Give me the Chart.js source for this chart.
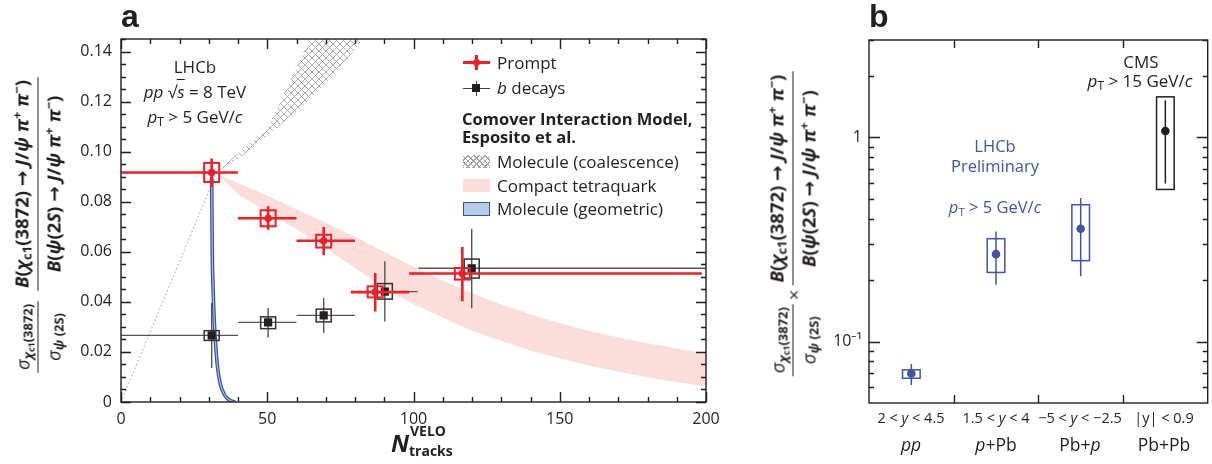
<!DOCTYPE html>
<html>
<head>
<meta charset="utf-8">
<script src="https://cdn.jsdelivr.net/npm/chart.js@4.4.0/dist/chart.umd.min.js"></script>
<style>
body { margin: 0; background: #fff; width: 1212px; height: 464px; position: relative; overflow: hidden;
       font-family: "Open Sans", sans-serif; color: #231f20; }
canvas { position: absolute; }
.t { position: absolute; white-space: nowrap; font-size: 17px; line-height: 22px; }
.c { transform: translateX(-50%); text-align: center; }
.blue { color: #3f55a6; font-size: 16.5px; }
sub, sup { font-size: 0.7em; line-height: 0; }
sub { vertical-align: -0.25em; }
sup { vertical-align: 0.55em; }
.panel { position: absolute; font-family: "Liberation Sans", sans-serif; font-weight: bold; font-size: 32px; line-height: 32px; }
.yt { position: absolute; transform: translate(-50%, -50%) rotate(-90deg); display: flex; align-items: center;
      font-size: 18.5px; white-space: nowrap; }
.frac { display: inline-flex; flex-direction: column; align-items: center; }
.frac .n { border-bottom: 1.6px solid #231f20; padding: 0 3px 3px; line-height: 24px; }
.frac .d { padding-top: 3px; line-height: 24px; }
.arr { font-family: "DejaVu Sans", sans-serif; font-weight: bold; }
.sw { position: absolute; }
.row1 { font-size: 14.5px; }
.row2 { font-size: 17.5px; }
</style>
</head>
<body>
<canvas id="chartA" width="660" height="410" style="left:60px;top:30px"></canvas>
<canvas id="chartB" width="392" height="410" style="left:820px;top:30px"></canvas>

<div class="panel" style="left:121px;top:0px">a</div>
<div class="panel" style="left:869px;top:0px">b</div>

<!-- panel a y title -->
<div class="yt" style="left:38px;top:225px">
  <span class="frac"><span class="n"><i>σ</i><sub><b><i>χ</i><sub>c1</sub>(3872)</b></sub></span><span class="d"><i>σ</i><sub><b><i>ψ</i> (2S)</b></sub></span></span>
  <span style="width:10px"></span>
  <span class="frac"><span class="n"><b><i>B</i>(<i>χ</i><sub>c1</sub>(3872) <span class="arr">→</span> <i>J</i>/<i>ψ π</i><sup>+</sup> <i>π</i><sup>−</sup>)</b></span><span class="d"><b><i>B</i>(<i>ψ</i>(2<i>S</i>) <span class="arr">→</span> <i>J</i>/<i>ψ π</i><sup>+</sup> <i>π</i><sup>−</sup>)</b></span></span>
</div>

<!-- panel b y title -->
<div class="yt" style="left:793px;top:224px">
  <span class="frac"><span class="n"><i>σ</i><sub><b><i>χ</i><sub>c1</sub>(3872)</b></sub></span><span class="d"><i>σ</i><sub><b><i>ψ</i> (2S)</b></sub></span></span>
  <span style="padding:0 4px">×</span>
  <span class="frac"><span class="n"><b><i>B</i>(<i>χ</i><sub>c1</sub>(3872) <span class="arr">→</span> <i>J</i>/<i>ψ π</i><sup>+</sup> <i>π</i><sup>−</sup>)</b></span><span class="d"><b><i>B</i>(<i>ψ</i>(2<i>S</i>) <span class="arr">→</span> <i>J</i>/<i>ψ π</i><sup>+</sup> <i>π</i><sup>−</sup>)</b></span></span>
</div>

<!-- panel a x title -->
<div class="t" style="left:391px;top:428px;font-size:24px;line-height:30px"><b><i>N</i></b></div>
<div class="t" style="left:410px;top:423px;font-size:14px;line-height:15px"><b>VELO</b></div>
<div class="t" style="left:409px;top:443px;font-size:14px;line-height:15px"><b>tracks</b></div>

<!-- panel a annotations -->
<div class="t c" style="left:195px;top:56px">LHCb</div>
<div class="t c" style="left:195px;top:81px"><i>pp</i> √<i style="border-top:1px solid #231f20">s</i> = 8 TeV</div>
<div class="t c" style="left:195px;top:106px"><i>p</i><sub>T</sub> &gt; 5 GeV/<i>c</i></div>

<!-- legend -->
<div class="sw" style="left:463px;top:61px;width:27px;height:2.5px;background:#ee2027"></div>
<div class="sw" style="left:475px;top:55px;width:2.5px;height:15px;background:#ee2027"></div>
<div class="sw" style="left:472.5px;top:58.5px;width:7.5px;height:7.5px;border-radius:50%;background:#ee2027"></div>
<div class="t" style="left:497px;top:52px">Prompt</div>

<div class="sw" style="left:463px;top:87.5px;width:27px;height:1.4px;background:#444"></div>
<div class="sw" style="left:475.6px;top:81px;width:1.4px;height:15px;background:#444"></div>
<div class="sw" style="left:472px;top:84px;width:8px;height:8px;background:#231f20"></div>
<div class="t" style="left:497px;top:77px"><i>b</i> decays</div>

<div class="t" style="left:462px;top:108px;font-weight:bold;font-size:16.5px">Comover Interaction Model,</div>
<div class="t" style="left:462px;top:126px;font-weight:bold;font-size:16.5px">Esposito et al.</div>

<div class="sw" style="left:463px;top:155px;width:27px;height:13px;background:repeating-linear-gradient(45deg,#a6a6a6 0 1px,transparent 1px 4px),repeating-linear-gradient(-45deg,#a6a6a6 0 1px,transparent 1px 4px)"></div>
<div class="t" style="left:497px;top:151px">Molecule (coalescence)</div>
<div class="sw" style="left:463px;top:179px;width:27px;height:13px;background:#fbdeda"></div>
<div class="t" style="left:497px;top:175px">Compact tetraquark</div>
<div class="sw" style="left:463px;top:202px;width:25px;height:12px;background:#b4cde8;border:1px solid #3953a4"></div>
<div class="t" style="left:497px;top:198px">Molecule (geometric)</div>

<!-- panel b annotations -->
<div class="t c" style="left:1141px;top:51px">CMS</div>
<div class="t c" style="left:1140px;top:70px"><i>p</i><sub>T</sub> &gt; 15 GeV/<i>c</i></div>
<div class="t c blue" style="left:995px;top:135px">LHCb</div>
<div class="t c blue" style="left:995px;top:155px">Preliminary</div>
<div class="t c blue" style="left:995px;top:196px"><i>p</i><sub>T</sub> &gt; 5 GeV/<i>c</i></div>

<div class="t c row1" style="left:911px;top:407px">2 &lt; <i>y</i> &lt; 4.5</div>
<div class="t c row1" style="left:996px;top:407px">1.5 &lt; <i>y</i> &lt; 4</div>
<div class="t c row1" style="left:1080px;top:407px">−5 &lt; <i>y</i> &lt; −2.5</div>
<div class="t c row1" style="left:1164px;top:407px">|y| &lt; 0.9</div>
<div class="t c row2" style="left:911px;top:433px"><i>pp</i></div>
<div class="t c row2" style="left:996px;top:433px"><i>p</i>+Pb</div>
<div class="t c row2" style="left:1080px;top:433px">Pb+<i>p</i></div>
<div class="t c row2" style="left:1164px;top:433px">Pb+Pb</div>

<script>
// ---- panel a data ----
const promptX = [31, 50.3, 69.3, 86.9, 116.7];
const promptY = [0.0917, 0.0734, 0.0644, 0.0439, 0.0513];
const promptXLo = [0, 40, 60, 78.6, 98.5];
const promptXHi = [40, 60, 80, 98.5, 198.6];
const promptYLo = [0.0859, 0.0688, 0.0586, 0.0362, 0.0402];
const promptYHi = [0.0973, 0.0782, 0.0699, 0.0515, 0.0619];
const promptSysLo = [0.0879, 0.0702, 0.0617, 0.0418, 0.0489];
const promptSysHi = [0.0955, 0.0766, 0.0668, 0.0462, 0.0535];

const bX = [31, 50.3, 69.3, 90.2, 119.9];
const bY = [0.0266, 0.0318, 0.0346, 0.0441, 0.0534];
const bXLo = [0, 40, 60, 81.6, 101.6];
const bXHi = [40, 60, 80, 101.4, 200];
const bYLo = [0.0136, 0.0258, 0.0276, 0.0322, 0.0374];
const bYHi = [0.0395, 0.0375, 0.0415, 0.0562, 0.0691];
const bSysLo = [0.0246, 0.0293, 0.0320, 0.0411, 0.0495];
const bSysHi = [0.0285, 0.0340, 0.0371, 0.0473, 0.0571];

// compact tetraquark band
const tetraX = [33, 40, 50, 60, 70, 80, 90, 100, 120, 140, 160, 180, 200];
const tetraHi = [0.091, 0.0875, 0.0825, 0.077, 0.0715, 0.066, 0.060, 0.054, 0.0435, 0.035, 0.0285, 0.0235, 0.0195];
const tetraLo = [0.091, 0.083, 0.076, 0.069, 0.0615, 0.0535, 0.0455, 0.039, 0.0285, 0.0205, 0.0145, 0.0098, 0.0062];

// molecule (coalescence) band
const coalX = [33, 40, 50, 60, 64.6, 70, 83];
const coalHi = [0.092, 0.0994, 0.109, 0.1335, 0.145, 0.158, 0.19];
const coalLo = [0.092, 0.097, 0.1065, 0.116, 0.121, 0.127, 0.145];

// dotted extension to origin
const dotX = [0, 33];
const dotY = [0, 0.0925];

// molecule (geometric)
const geoX = [31.0, 31.2, 31.5, 31.9, 32.4, 33.1, 34.0, 35.3, 37.0, 39.0];
const geoY = [0.090, 0.060, 0.045, 0.032, 0.022, 0.013, 0.007, 0.003, 0.0008, 0];

// ---- panel b data ----
const sysCats = ['pp', 'p+Pb', 'Pb+p', 'Pb+Pb'];
const ratioY = [0.0697, 0.268, 0.357, 1.074];
const ratioLo = [0.0612, 0.190, 0.209, 0.595];
const ratioHi = [0.0776, 0.346, 0.505, 1.52];
const ratioSysLo = [0.0661, 0.218, 0.249, 0.556];
const ratioSysHi = [0.0727, 0.319, 0.468, 1.58];
const ratioColor = ['#3f55a6', '#3f55a6', '#3f55a6', '#231f20'];

const INK = '#231f20';
const pts = (xs, ys) => xs.map((x, i) => ({ x: x, y: ys[i] }));

function hatch() {
  const c = document.createElement('canvas');
  c.width = c.height = 7;
  const g = c.getContext('2d');
  g.strokeStyle = '#a2a2a2';
  g.lineWidth = 0.9;
  g.beginPath();
  g.moveTo(0, 0); g.lineTo(7, 7);
  g.moveTo(7, 0); g.lineTo(0, 7);
  g.stroke();
  return g.createPattern(c, 'repeat');
}

// stop tick labels from pushing the plot area around
function noPad(s) {
  s.paddingTop = 0; s.paddingBottom = 0; s.paddingLeft = 0; s.paddingRight = 0;
}

// error bars + systematic boxes, drawn just before the marker dataset
const errorBars = {
  id: 'errorBars',
  beforeDatasetDraw(chart, args) {
    const ds = chart.data.datasets[args.index];
    if (!ds.err) return;
    const { ctx, chartArea: a } = chart;
    const x = chart.scales.x, y = chart.scales.y, e = ds.err;
    ctx.save();
    ctx.beginPath();
    ctx.rect(a.left, a.top, a.width, a.height);
    ctx.clip();
    ds.data.forEach((p, i) => {
      const px = x.getPixelForValue(e.cat ? i : p.x);
      const py = y.getPixelForValue(e.cat ? p : p.y);
      const col = Array.isArray(e.color) ? e.color[i] : e.color;
      ctx.strokeStyle = e.barColor || col;
      ctx.lineWidth = e.barWidth;
      ctx.beginPath();
      if (e.xLo) {
        ctx.moveTo(x.getPixelForValue(e.xLo[i]), py);
        ctx.lineTo(x.getPixelForValue(e.xHi[i]), py);
      }
      ctx.moveTo(px, y.getPixelForValue(e.yLo[i]));
      ctx.lineTo(px, y.getPixelForValue(e.yHi[i]));
      ctx.stroke();
      const top = y.getPixelForValue(e.sysHi[i]), bot = y.getPixelForValue(e.sysLo[i]);
      ctx.strokeStyle = col;
      ctx.lineWidth = e.boxWidth;
      ctx.strokeRect(px - e.half, top, 2 * e.half, bot - top);
    });
    ctx.restore();
  }
};

// frame and inward ticks in the ROOT style
const frameA = {
  id: 'frameA',
  afterDraw(chart) {
    const { ctx, chartArea: a } = chart;
    const x = chart.scales.x, y = chart.scales.y;
    ctx.save();
    ctx.strokeStyle = INK;
    ctx.lineWidth = 1.4;
    ctx.strokeRect(a.left, a.top, a.width, a.height);
    ctx.beginPath();
    for (let v = 0; v <= 200; v += 10) {
      const px = Math.round(x.getPixelForValue(v)) + 0.5, len = v % 50 === 0 ? 10 : 5;
      ctx.moveTo(px, a.bottom); ctx.lineTo(px, a.bottom - len);
      ctx.moveTo(px, a.top); ctx.lineTo(px, a.top + len);
    }
    for (let k = 0; k <= 29; k++) {
      const py = Math.round(y.getPixelForValue(k * 0.005)) + 0.5, len = k % 4 === 0 ? 10 : 5;
      ctx.moveTo(a.left, py); ctx.lineTo(a.left + len, py);
      ctx.moveTo(a.right, py); ctx.lineTo(a.right - len, py);
    }
    ctx.stroke();
    ctx.restore();
  }
};

const frameB = {
  id: 'frameB',
  afterDraw(chart) {
    const { ctx, chartArea: a } = chart;
    const x = chart.scales.x, y = chart.scales.y;
    ctx.save();
    ctx.strokeStyle = INK;
    ctx.lineWidth = 1.4;
    ctx.strokeRect(a.left, a.top, a.width, a.height);
    ctx.beginPath();
    for (let i = 0; i < sysCats.length - 1; i++) {
      const px = Math.round((x.getPixelForValue(i) + x.getPixelForValue(i + 1)) / 2) + 0.5;
      ctx.moveTo(px, a.bottom); ctx.lineTo(px, a.bottom - 8);
      ctx.moveTo(px, a.top); ctx.lineTo(px, a.top + 8);
    }
    const minor = [0.06, 0.07, 0.08, 0.09, 0.2, 0.3, 0.4, 0.5, 0.6, 0.7, 0.8, 0.9, 2, 3];
    [0.1, 1].concat(minor).forEach((v, k) => {
      const py = Math.round(y.getPixelForValue(v)) + 0.5, len = k < 2 ? 11 : 5;
      if (py < a.top || py > a.bottom) return;
      ctx.moveTo(a.left, py); ctx.lineTo(a.left + len, py);
      ctx.moveTo(a.right, py); ctx.lineTo(a.right - len, py);
    });
    ctx.stroke();
    ctx.restore();
  }
};

const tickFont = { family: '"Open Sans", sans-serif', size: 16 };

new Chart(document.getElementById('chartA'), {
  type: 'scatter',
  data: {
    datasets: [
      { label: 'Prompt', data: pts(promptX, promptY), order: 1, pointStyle: 'circle', pointRadius: 3.8,
        backgroundColor: '#ee2027', borderWidth: 0,
        err: { xLo: promptXLo, xHi: promptXHi, yLo: promptYLo, yHi: promptYHi, sysLo: promptSysLo, sysHi: promptSysHi,
               color: '#ee2027', barWidth: 2.6, boxWidth: 2, half: 7.5 } },
      { label: 'b decays', data: pts(bX, bY), order: 2, pointStyle: 'rect', pointRadius: 5.8,
        backgroundColor: INK, borderWidth: 0,
        err: { xLo: bXLo, xHi: bXHi, yLo: bYLo, yHi: bYHi, sysLo: bSysLo, sysHi: bSysHi,
               color: '#333', barColor: '#555', barWidth: 1.4, boxWidth: 1.5, half: 7.5 } },
      { label: 'tetra lo', type: 'line', data: pts(tetraX, tetraLo), order: 10, pointRadius: 0, borderWidth: 0, fill: false },
      { label: 'tetra hi', type: 'line', data: pts(tetraX, tetraHi), order: 10, pointRadius: 0, borderWidth: 0,
        fill: { target: 2 }, backgroundColor: '#fbdeda', tension: 0.3 },
      { label: 'coal lo', type: 'line', data: pts(coalX, coalLo), order: 9, pointRadius: 0, borderWidth: 0, fill: false },
      { label: 'coal hi', type: 'line', data: pts(coalX, coalHi), order: 9, pointRadius: 0, borderWidth: 0,
        fill: { target: 4 }, backgroundColor: hatch() },
      { label: 'dotted', type: 'line', data: pts(dotX, dotY), order: 8, pointRadius: 0, borderWidth: 1,
        borderColor: '#8a8a8a', borderDash: [1.2, 2.8] },
      { label: 'geo edge', type: 'line', data: pts(geoX, geoY), order: 7, pointRadius: 0, borderWidth: 3.6,
        borderColor: '#3450a2', cubicInterpolationMode: 'monotone' },
      { label: 'geo fill', type: 'line', data: pts(geoX, geoY), order: 6, pointRadius: 0, borderWidth: 1.2,
        borderColor: '#a9c1e3', cubicInterpolationMode: 'monotone' }
    ]
  },
  options: {
    responsive: false,
    animation: false,
    layout: { padding: { top: 9, right: 14, left: 0, bottom: 0 } },
    plugins: { legend: { display: false }, tooltip: { enabled: false } },
    scales: {
      x: {
        type: 'linear', min: 0, max: 200,
        grid: { display: false, drawTicks: false }, border: { display: false },
        ticks: { stepSize: 50, padding: 8, color: INK, font: tickFont, maxRotation: 0 },
        afterFit(s) { s.height = 38; noPad(s); }
      },
      y: {
        type: 'linear', min: 0, max: 0.145,
        grid: { display: false, drawTicks: false }, border: { display: false },
        ticks: { stepSize: 0.02, includeBounds: false, padding: 9, color: INK, font: tickFont,
                 callback: v => (v === 0 ? '0' : v.toFixed(2)) },
        afterFit(s) { s.width = 61; noPad(s); }
      }
    }
  },
  plugins: [errorBars, frameA]
});

new Chart(document.getElementById('chartB'), {
  type: 'line',
  data: {
    labels: sysCats,
    datasets: [
      { label: 'ratio', data: ratioY, showLine: false, pointStyle: 'circle', pointRadius: 4.3,
        backgroundColor: ratioColor, borderWidth: 0,
        err: { cat: true, yLo: ratioLo, yHi: ratioHi, sysLo: ratioSysLo, sysHi: ratioSysHi,
               color: ratioColor, barWidth: 1.5, boxWidth: 1.5, half: 8.8 } }
    ]
  },
  options: {
    responsive: false,
    animation: false,
    layout: { padding: { top: 10, right: 4, left: 0, bottom: 0 } },
    plugins: { legend: { display: false }, tooltip: { enabled: false } },
    scales: {
      x: {
        type: 'category', offset: true,
        grid: { display: false, drawTicks: false }, border: { display: false },
        ticks: { display: false },
        afterFit(s) { s.height = 37; noPad(s); }
      },
      y: {
        type: 'logarithmic', min: 0.05, max: 3,
        grid: { display: false, drawTicks: false }, border: { display: false },
        ticks: { padding: 7, color: INK, font: tickFont, autoSkip: false,
                 callback: v => (v === 1 ? '1' : (Math.abs(v - 0.1) < 1e-9 ? '10⁻¹' : '')) },
        afterFit(s) { s.width = 49; noPad(s); }
      }
    }
  },
  plugins: [errorBars, frameB]
});
</script>
</body>
</html>
